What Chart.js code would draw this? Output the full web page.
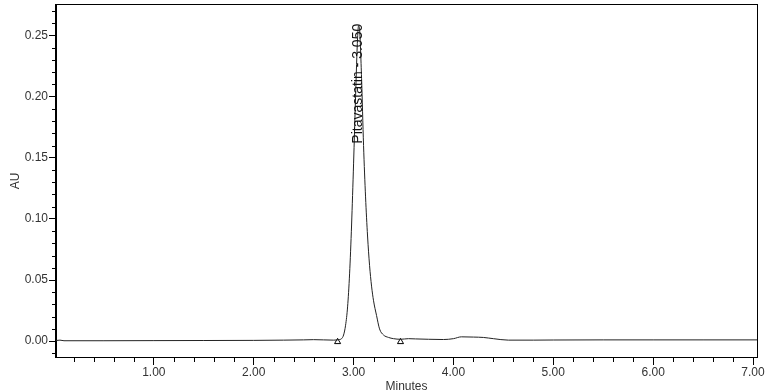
<!DOCTYPE html>
<html>
<head>
<meta charset="utf-8">
<script src="https://cdn.jsdelivr.net/npm/chart.js@4.4.1/dist/chart.umd.min.js"></script>
<style>
    html, body { margin: 0; padding: 0; background: #fff; }
    #wrap { width: 782px; height: 392px; }
</style>
</head>
<body>
<div id="wrap"><canvas id="chrom"></canvas></div>
<script>
(function () {
    'use strict';

    // 保留时间（分钟）与吸光度（AU）—— 从参考图读取
    var TIME = [0.02, 0.06, 0.10, 0.50, 1.00, 1.50, 2.00, 2.30, 2.50, 2.60, 2.70, 2.80, 2.85,
        2.88, 2.90, 2.92, 2.94, 2.96, 2.98, 3.00, 3.02, 3.04, 3.05, 3.06, 3.08, 3.10, 3.12,
        3.14, 3.16, 3.18, 3.20, 3.23, 3.26, 3.30, 3.35, 3.40, 3.47, 3.55, 3.62, 3.75, 3.90,
        4.00, 4.08, 4.20, 4.30, 4.40, 4.55, 4.80, 5.00, 5.50, 6.00, 6.50, 7.04];
    var AU = [0.0005, 0.0008, 0.0003, 0.0003, 0.0004, 0.0005, 0.0006, 0.0008, 0.0010, 0.0012, 0.0010, 0.0008, 0.0012,
        0.0020, 0.0050, 0.0130, 0.0280, 0.0550, 0.0950, 0.1450, 0.2000, 0.2480, 0.2580, 0.2550, 0.2150, 0.1600, 0.1180,
        0.0860, 0.0620, 0.0450, 0.0330, 0.0210, 0.0100, 0.0050, 0.0030, 0.0020, 0.0015, 0.0020, 0.0018, 0.0015, 0.0013,
        0.0020, 0.0035, 0.0033, 0.0030, 0.0020, 0.0008, 0.0008, 0.0009, 0.0010, 0.0010, 0.0010, 0.0010];

    // 积分起止标记
    var MARKER_TIME = [2.84, 3.47];
    var MARKER_AU = [-0.0006, -0.0006];

    // 刻度
    var X_TICKS = [1, 2, 3, 4, 5, 6, 7];
    var Y_TICKS = [0, 0.05, 0.10, 0.15, 0.20, 0.25];

    var PEAK_NAME = 'Pitavastatin';
    var PEAK_RT = 3.050;

    var FONT = "'Liberation Sans', Arial, sans-serif";
    var TEXT = '#333';

    var trace = TIME.map(function (t, i) { return { x: t, y: AU[i] }; });
    var markers = MARKER_TIME.map(function (t, i) { return { x: t, y: MARKER_AU[i] }; });

    // 外框 + 次刻度
    var frameAndMinorTicks = {
        id: 'frameAndMinorTicks',
        afterDraw: function (chart) {
            var ctx = chart.ctx;
            var a = chart.chartArea;
            var xs = chart.scales.x;
            var ys = chart.scales.y;
            ctx.save();
            ctx.strokeStyle = '#000';
            ctx.lineWidth = 1;
            ctx.strokeRect(Math.round(a.left) - 0.5, Math.round(a.top) - 0.5,
                Math.round(a.right - a.left) + 1, Math.round(a.bottom - a.top) + 1);
            ctx.beginPath();
            var i, p;
            for (i = -1; i <= 27; i++) {
                if (i % 5 === 0) continue;
                p = Math.round(ys.getPixelForValue(i / 100)) + 0.5;
                ctx.moveTo(a.left - 4, p);
                ctx.lineTo(a.left, p);
            }
            for (i = 1; i <= 35; i++) {
                if (i % 5 === 0) continue;
                p = Math.round(xs.getPixelForValue(i / 5)) + 0.5;
                ctx.moveTo(p, a.bottom);
                ctx.lineTo(p, a.bottom + 5);
            }
            ctx.stroke();
            ctx.restore();
        }
    };

    // 峰标签（竖排）
    var peakLabel = {
        id: 'peakLabel',
        afterDatasetsDraw: function (chart) {
            var ctx = chart.ctx;
            var xs = chart.scales.x;
            var ys = chart.scales.y;
            var top = 0;
            for (var i = 0; i < TIME.length; i++) {
                if (AU[i] > top) top = AU[i];
            }
            var px = xs.getPixelForValue(PEAK_RT);
            var py = ys.getPixelForValue(top) - 2;
            ctx.save();
            ctx.translate(px, py);
            ctx.rotate(-Math.PI / 2);
            ctx.font = '14px ' + FONT;
            ctx.fillStyle = '#111';
            ctx.textAlign = 'right';
            ctx.textBaseline = 'middle';
            ctx.fillText(PEAK_NAME + ' - ' + PEAK_RT.toFixed(3), 0, 0);
            ctx.restore();
        }
    };

    var canvas = document.getElementById('chrom');
    new Chart(canvas.getContext('2d'), {
        type: 'scatter',
        data: {
            datasets: [{
                data: trace,
                showLine: true,
                borderColor: '#222',
                borderWidth: 1,
                pointRadius: 0,
                tension: 0.35,
                cubicInterpolationMode: 'monotone'
            }, {
                data: markers,
                showLine: false,
                pointStyle: 'triangle',
                pointRadius: 3.5,
                borderColor: '#000',
                borderWidth: 1,
                backgroundColor: '#fff'
            }]
        },
        options: {
            responsive: true,
            maintainAspectRatio: false,
            animation: false,
            layout: { padding: { left: 0, right: 25, top: 4, bottom: 0 } },
            plugins: {
                legend: { display: false },
                tooltip: { enabled: false }
            },
            scales: {
                x: {
                    type: 'linear',
                    min: 0.02,
                    max: 7.04,
                    afterBuildTicks: function (s) {
                        s.ticks = X_TICKS.map(function (v) { return { value: v }; });
                    },
                    afterFit: function (s) {
                        s.height = 35;
                        s.paddingLeft = 0;
                        s.paddingRight = 0;
                    },
                    border: { display: true, color: '#000' },
                    grid: { drawOnChartArea: false, drawTicks: true, tickLength: 8, color: '#000' },
                    ticks: {
                        color: TEXT,
                        padding: 0,
                        maxRotation: 0,
                        font: { family: FONT, size: 12 },
                        callback: function (v) { return Number(v).toFixed(2); }
                    },
                    title: {
                        display: true,
                        text: 'Minutes',
                        color: TEXT,
                        padding: { top: 0, bottom: -2 },
                        font: { family: FONT, size: 12 }
                    }
                },
                y: {
                    type: 'linear',
                    min: -0.013,
                    max: 0.275,
                    afterBuildTicks: function (s) {
                        s.ticks = Y_TICKS.map(function (v) { return { value: v }; });
                    },
                    afterFit: function (s) {
                        s.width = 56;
                        s.paddingTop = 0;
                        s.paddingBottom = 0;
                    },
                    border: { display: true, color: '#000' },
                    grid: { drawOnChartArea: false, drawTicks: true, tickLength: 7, color: '#000' },
                    ticks: {
                        color: TEXT,
                        padding: 1,
                        font: { family: FONT, size: 12 },
                        callback: function (v) { return Number(v).toFixed(2); }
                    },
                    title: {
                        display: true,
                        text: 'AU',
                        color: TEXT,
                        padding: { top: 8, bottom: 0 },
                        font: { family: FONT, size: 12 }
                    }
                }
            }
        },
        plugins: [frameAndMinorTicks, peakLabel]
    });
})();
</script>
</body>
</html>
